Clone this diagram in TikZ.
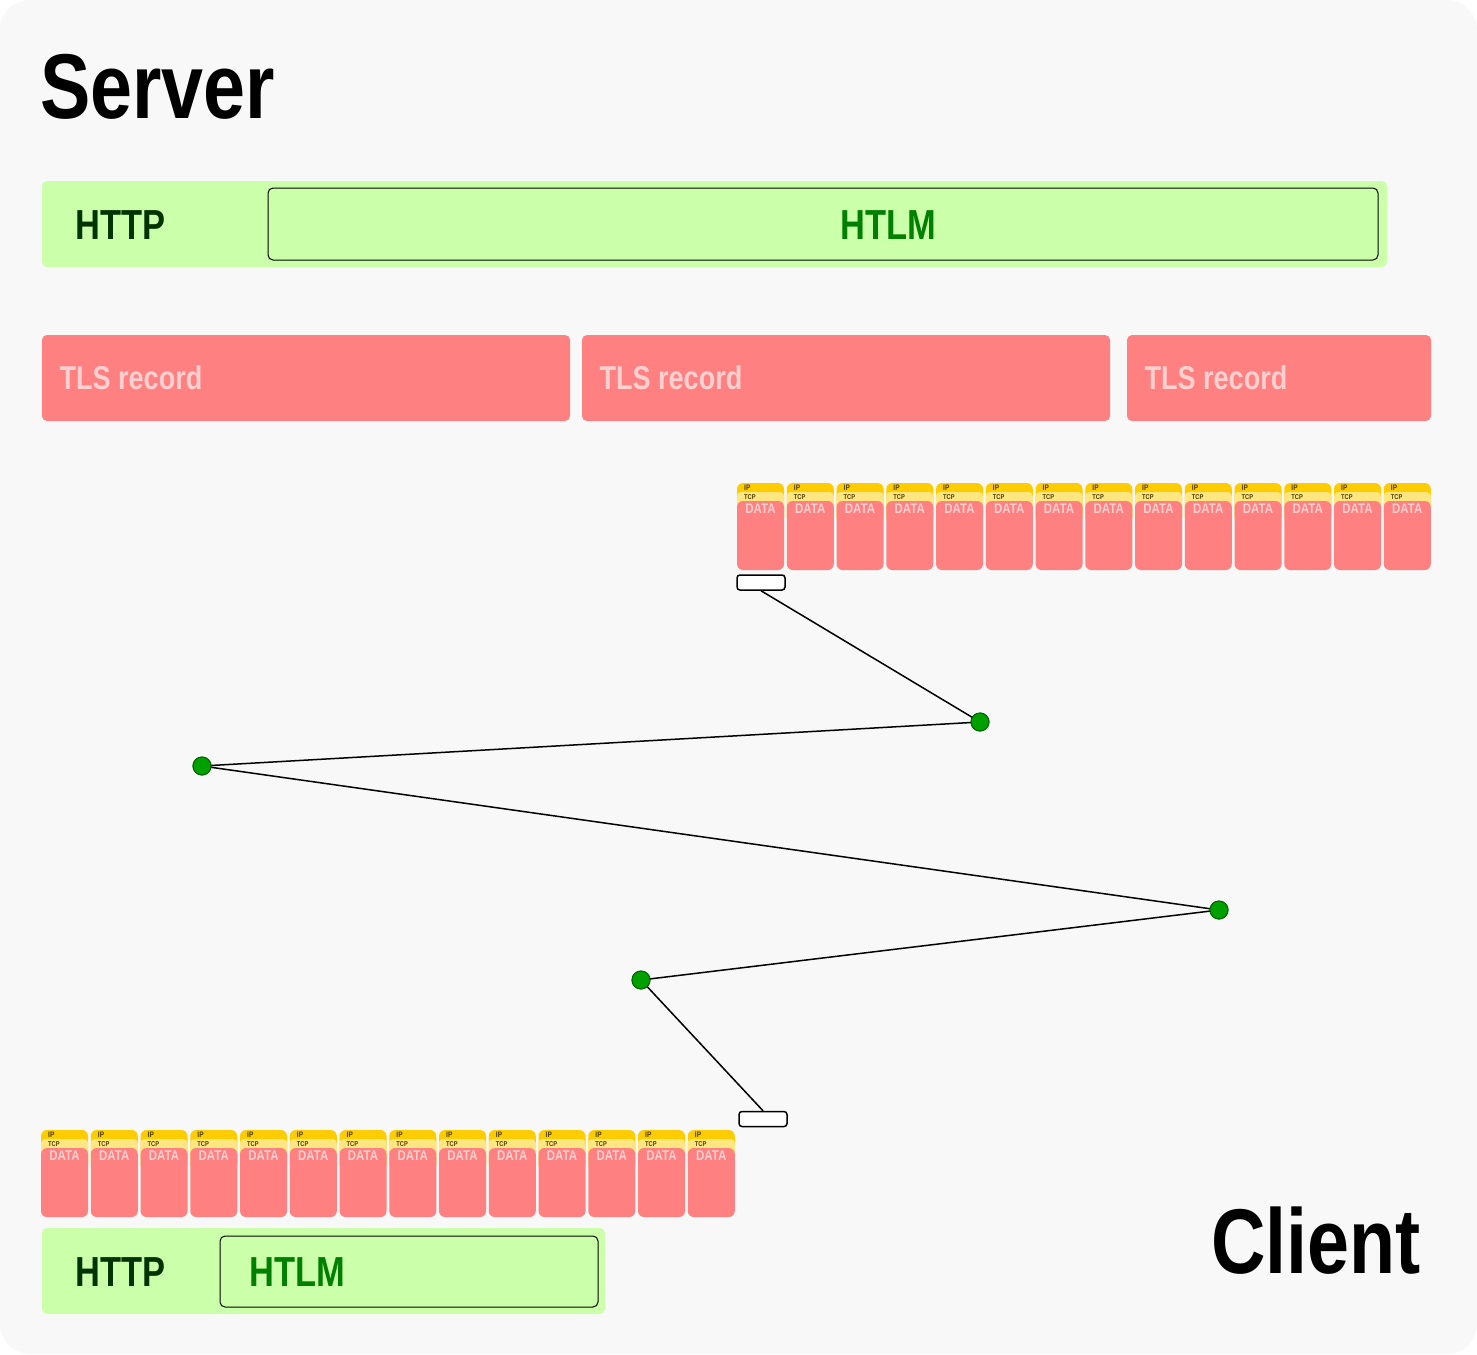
\documentclass[tikz,border=0pt]{standalone}
\usepackage{fontspec}
\setmainfont{Liberation Sans}[FakeStretch=0.82]
\begin{document}
\begin{tikzpicture}[x=1pt,y=-1pt,
  bar/.style={fill=httpg,draw=none,rounded corners=5pt},
  inner/.style={draw=black,line width=1pt,rounded corners=5pt},
  tls/.style={fill=tlsred,rounded corners=5pt},
  tlstxt/.style={text=tlstxt,font=\bfseries\fontsize{33}{36}\selectfont,anchor=west},
  httptxt/.style={text=darkg,font=\bfseries\fontsize{42}{46}\selectfont,anchor=west},
  htlm/.style={text=htlmg,font=\bfseries\fontsize{42}{46}\selectfont},
  dot/.style={circle,fill=dotg,draw=dotd,line width=1pt,minimum size=18pt,inner sep=0pt},
  tag/.style={draw=black,fill=white,line width=1.5pt,rounded corners=3pt},
  conn/.style={line width=1.5pt}]
\definecolor{httpg}{HTML}{CCFFAA}
\definecolor{tlsred}{HTML}{FF8080}
\definecolor{tlstxt}{HTML}{FFD0D0}
\definecolor{darkg}{HTML}{003300}
\definecolor{htlmg}{HTML}{008000}
\definecolor{dotg}{HTML}{00A000}
\definecolor{dotd}{HTML}{006600}
\definecolor{ipc}{HTML}{FFCC00}
\definecolor{tcpc}{HTML}{FFE680}
\definecolor{bg}{HTML}{F8F8F8}
\fill[white] (0,0) rectangle (1477,1354);
\useasboundingbox (0,0) rectangle (1477,1354);
\fill[bg,rounded corners=30pt] (0,0) rectangle (1477,1354);
\newcommand{\packet}[2]{%
  \fill[ipc,rounded corners=6pt] (#1,#2) rectangle ++(47,40);
  \fill[tcpc,rounded corners=4pt] (#1,#2+9) rectangle ++(47,30);
  \fill[tlsred,rounded corners=6pt] (#1,#2+18) rectangle ++(47,69);
  \node[anchor=north west,inner sep=0pt,text=black!70!ipc,font=\bfseries\fontsize{8}{8}\selectfont] at (#1+7,#2+2) {IP};
  \node[anchor=north west,inner sep=0pt,text=black!70!ipc,font=\bfseries\fontsize{7}{7}\selectfont] at (#1+7,#2+11) {TCP};
  \node[anchor=north,inner sep=0pt,text=tlstxt,font=\bfseries\fontsize{14}{14}\selectfont] at (#1+23.5,#2+21) {DATA};
}
\node[anchor=base west,inner sep=0pt,font=\bfseries\fontsize{92}{96}\selectfont] (server) at (40,118) {Server};
\node[anchor=base east,inner sep=0pt,font=\bfseries\fontsize{92}{96}\selectfont] (client) at (1421,1273) {Client};
% top HTTP
\fill[bar] (42,181) rectangle (1387,267);
\draw[inner] (268,188) rectangle (1378,260);
\node[httptxt] (http1) at (72,225) {HTTP};
\node[htlm] (htlm1) at (888,225) {HTLM};
% TLS
\fill[tls] (42,335) rectangle (570,421);
\fill[tls] (582,335) rectangle (1110,421);
\fill[tls] (1127,335) rectangle (1431,421);
\node[tlstxt] (t1) at (56,378) {TLS record};
\node[tlstxt] (t2) at (596,378) {TLS record};
\node[tlstxt] (t3) at (1141,378) {TLS record};
% packets
\foreach \i in {0,...,13}{\packet{737+\i*49.75}{483}}
\foreach \i in {0,...,13}{\packet{41+\i*49.75}{1130}}
% tags
\node[tag,minimum width=48pt,minimum height=15pt] (tagA) at (761,582.5) {};
\node[tag,minimum width=48pt,minimum height=15pt] (tagB) at (763,1119) {};
\node[dot] (d1) at (980,722) {};
\node[dot] (d2) at (202,766) {};
\node[dot] (d3) at (1219,910) {};
\node[dot] (d4) at (641,980) {};
\draw[conn] (tagA.south) -- (d1.center);
\draw[conn] (d1.center) -- (d2.center);
\draw[conn] (d2.center) -- (d3.center);
\draw[conn] (d3.center) -- (d4.center);
\draw[conn] (d4.center) -- (tagB.north);
\node[dot] at (d1) {};\node[dot] at (d2) {};\node[dot] at (d3) {};\node[dot] at (d4) {};
% bottom HTTP
\fill[bar] (42,1228) rectangle (605,1314);
\draw[inner] (220,1236) rectangle (598,1307);
\node[httptxt] (http2) at (72,1272) {HTTP};
\node[htlm,anchor=west] (htlm2) at (246,1272) {HTLM};
\end{tikzpicture}
\end{document}
